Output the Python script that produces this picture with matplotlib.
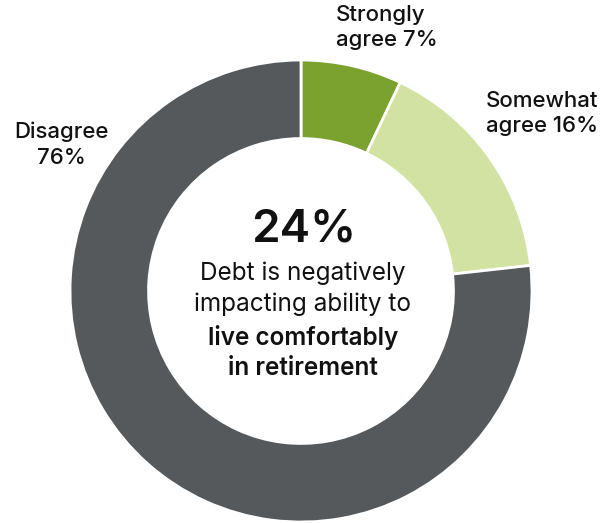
import matplotlib
matplotlib.use("Agg")
import matplotlib.pyplot as plt

# data
labels = ["Strongly\nagree 7%", "Somewhat\nagree 16%", "Disagree\n76%"]
values = [7, 16, 76]
colors = ["#7ba12f", "#d1e2a3", "#55595c"]

headline = "24%"
sub_lines = ["Debt is negatively", "impacting ability to"]
bold_lines = ["live comfortably", "in retirement"]

plt.rcParams["font.family"] = ["Inter", "DejaVu Sans"]

W, H = 605, 523
fig = plt.figure(figsize=(W / 100, H / 100), dpi=100)
ax = fig.add_axes([0, 0, 1, 1])
ax.axis("off")

cx, cy, r_out = 301, 291, 231
ring = 0.34

ax.pie(values, colors=colors, startangle=90, counterclock=False,
       center=(cx, -cy), radius=r_out,
       wedgeprops=dict(width=r_out * ring, edgecolor="white", linewidth=2))
# pie works in y-up coords, so pixel rows are negated
ax.set_xlim(0, W)
ax.set_ylim(-H, 0)
ax.set_aspect("equal")

lab_kw = dict(fontsize=16, fontweight="medium", color="#111111", linespacing=1.32)
ax.text(336, -5, labels[0], ha="left", va="top", **lab_kw)
ax.text(486, -91, labels[1], ha="left", va="top", **lab_kw)
ax.text(61, -122, labels[2], ha="center", va="top", **lab_kw)

ax.text(304, -242, headline, ha="center", va="baseline", fontsize=33,
        fontweight="semibold", color="#111111")
baselines = [280, 311, 345, 375]
for t, yb in zip(sub_lines + bold_lines, baselines):
    w = "normal" if t in sub_lines else "semibold"
    ax.text(303, -yb, t, ha="center", va="baseline", fontsize=17.5,
            fontweight=w, color="#111111")

fig.savefig("out.png", dpi=100)
